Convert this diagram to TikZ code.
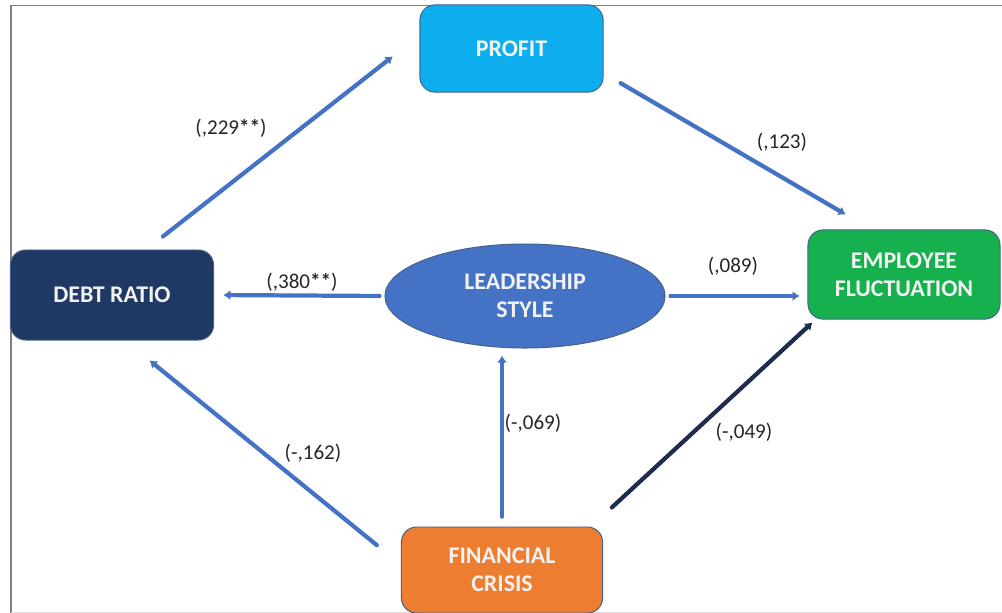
\documentclass[tikz,border=0pt]{standalone}
\usepackage{fontspec}
\setmainfont{Carlito}
\usetikzlibrary{arrows.meta, shapes.geometric}

\definecolor{linkblue}{RGB}{68,114,196}
\definecolor{linknavy}{RGB}{30,44,78}
\definecolor{profitblue}{RGB}{12,174,238}
\definecolor{fluctgreen}{RGB}{22,176,78}
\definecolor{debtnavy}{RGB}{31,56,100}
\definecolor{leadblue}{RGB}{68,114,196}
\definecolor{crisisorange}{RGB}{237,125,49}
\definecolor{boxedge}{RGB}{70,95,140}

\tikzset{
    box/.style={draw=boxedge, line width=.7pt, rounded corners=.38cm, align=center,
        text=white!95!black, font=\fontsize{17}{20}\selectfont\bfseries},
    link/.style={draw=linkblue, line width=3pt, line cap=round,
        -{Latex[length=5pt,width=7pt]}},
    lbl/.style={font=\fontsize{15}{18}\selectfont, text=black!85, inner sep=1pt}
}

\begin{document}
\begin{tikzpicture}[x=0.025cm, y=-0.025cm]
    \useasboundingbox (0,0) rectangle (1002,613);
    % frame
    \draw[gray, line width=1.2pt] (11,613) -- (11,5.5) -- (1002,5.5);
    \draw[gray!25, line width=.6pt] (11,612) -- (1002,612);

    % variables
    \node[box, fill=profitblue, minimum width=4.58cm, minimum height=2.18cm] (profit) at (511.5,48.5) {PROFIT};
    \node[box, fill=fluctgreen, minimum width=4.8cm, minimum height=2.23cm] (fluct) at (904,274.5) {EMPLOYEE\\FLUCTUATION};
    \node[box, fill=debtnavy, minimum width=5.08cm, minimum height=2.25cm] (debt) at (112,295) {DEBT RATIO};
    \node[box, fill=crisisorange, minimum width=5.03cm, minimum height=2.15cm] (crisis) at (502,570) {FINANCIAL\\CRISIS};
    \node[box, ellipse, rounded corners=0pt, fill=leadblue, inner sep=0pt,
        minimum width=7cm, minimum height=2.6cm] (lead) at (525,296) {LEADERSHIP\\STYLE};

    % paths
    \draw[link, shorten <=15pt, shorten >=24pt] (debt.53) -- (profit.172.5);
    \draw[link, shorten <=14pt, shorten >=21pt] (profit.345.4) -- (fluct.126.3);
    \draw[link, shorten <=3.5pt, shorten >=6.5pt] (lead.west) -- (debt.east);
    \draw[link, shorten <=3.5pt, shorten >=5.5pt] (lead.east) -- (lead.east -| fluct.west);
    \draw[link, shorten <=22pt, shorten >=22.5pt] (crisis.177) -- (debt.286);
    \draw[link, shorten <=7pt, shorten >=5pt] (crisis.north) -- (crisis.north |- lead.south);
    \draw[link, draw=linknavy, shorten <=20pt, shorten >=3pt] (crisis.26) -- (fluct.207);

    % coefficients
    \node[lbl] (c1) at (231,128) {(,229\textbf{**})};
    \node[lbl] (c2) at (782,142) {(,123)};
    \node[lbl] (c3) at (302,282) {(,380\textbf{**})};
    \node[lbl] (c4) at (733,266) {(,089)};
    \node[lbl] (c5) at (313,453) {(-,162)};
    \node[lbl] (c6) at (533,423) {(-,069)};
    \node[lbl] (c7) at (744,432) {(-,049)};
\end{tikzpicture}
\end{document}
